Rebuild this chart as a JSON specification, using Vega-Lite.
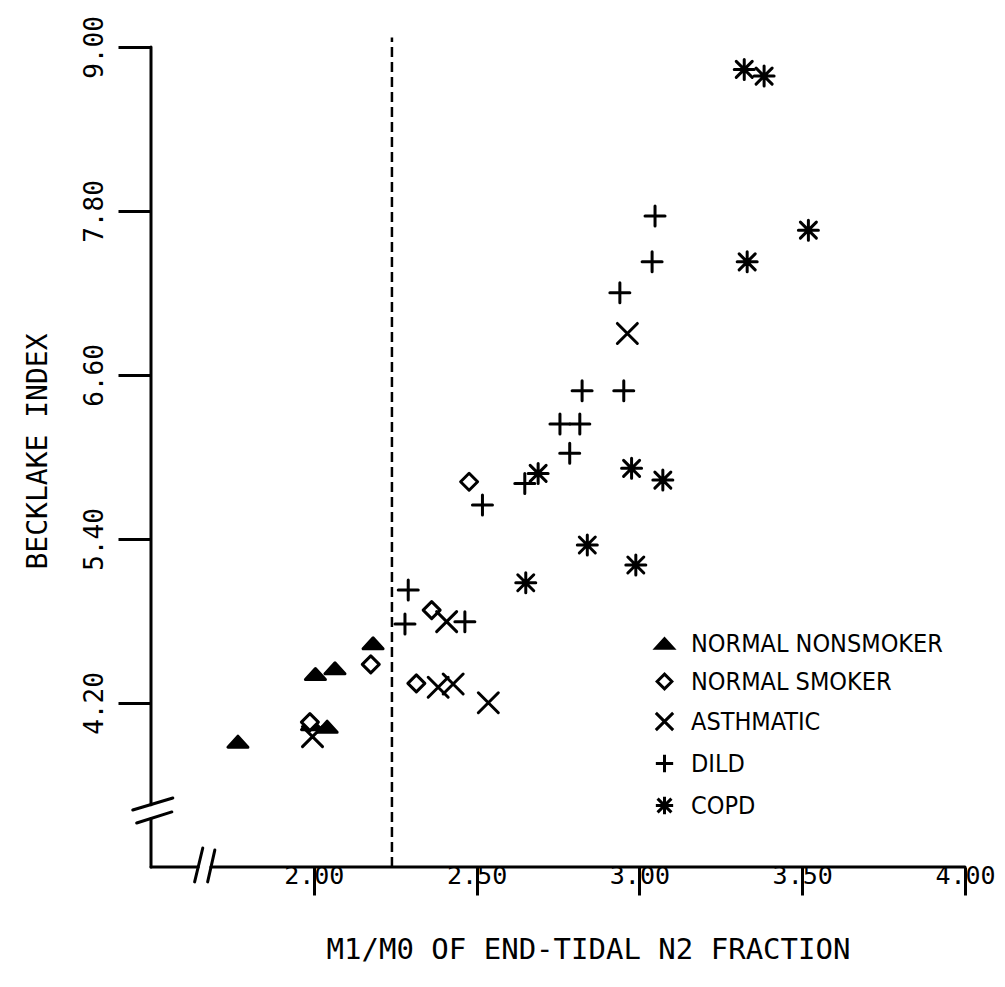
{
  "$schema": "https://vega.github.io/schema/vega-lite/v6.json",
  "width": 814,
  "height": 820,
  "autosize": "none",
  "padding": {"left": 151, "top": 47, "right": 40, "bottom": 120},
  "background": "white",
  "datasets": {
    "points": [
      {"group": "NORMAL NONSMOKER", "m1m0": 1.767, "becklake": 3.917},
      {"group": "NORMAL NONSMOKER", "m1m0": 1.993, "becklake": 4.045},
      {"group": "NORMAL NONSMOKER", "m1m0": 2.041, "becklake": 4.027},
      {"group": "NORMAL NONSMOKER", "m1m0": 2.005, "becklake": 4.412},
      {"group": "NORMAL NONSMOKER", "m1m0": 2.065, "becklake": 4.454},
      {"group": "NORMAL NONSMOKER", "m1m0": 2.182, "becklake": 4.637},
      {"group": "NORMAL SMOKER", "m1m0": 1.988, "becklake": 4.06},
      {"group": "NORMAL SMOKER", "m1m0": 2.175, "becklake": 4.483},
      {"group": "NORMAL SMOKER", "m1m0": 2.315, "becklake": 4.344},
      {"group": "NORMAL SMOKER", "m1m0": 2.362, "becklake": 4.88},
      {"group": "NORMAL SMOKER", "m1m0": 2.477, "becklake": 5.819},
      {"group": "ASTHMATIC", "m1m0": 1.996, "becklake": 3.954},
      {"group": "ASTHMATIC", "m1m0": 2.408, "becklake": 4.795},
      {"group": "ASTHMATIC", "m1m0": 2.382, "becklake": 4.315},
      {"group": "ASTHMATIC", "m1m0": 2.428, "becklake": 4.339},
      {"group": "ASTHMATIC", "m1m0": 2.536, "becklake": 4.202},
      {"group": "ASTHMATIC", "m1m0": 2.963, "becklake": 6.904},
      {"group": "DILD", "m1m0": 2.29, "becklake": 5.027},
      {"group": "DILD", "m1m0": 2.28, "becklake": 4.778},
      {"group": "DILD", "m1m0": 2.464, "becklake": 4.795},
      {"group": "DILD", "m1m0": 2.518, "becklake": 5.648},
      {"group": "DILD", "m1m0": 2.648, "becklake": 5.807},
      {"group": "DILD", "m1m0": 2.786, "becklake": 6.027},
      {"group": "DILD", "m1m0": 2.756, "becklake": 6.241},
      {"group": "DILD", "m1m0": 2.817, "becklake": 6.241},
      {"group": "DILD", "m1m0": 2.824, "becklake": 6.485},
      {"group": "DILD", "m1m0": 2.952, "becklake": 6.485},
      {"group": "DILD", "m1m0": 2.94, "becklake": 7.202},
      {"group": "DILD", "m1m0": 3.039, "becklake": 7.428},
      {"group": "DILD", "m1m0": 3.048, "becklake": 7.763},
      {"group": "COPD", "m1m0": 2.689, "becklake": 5.88},
      {"group": "COPD", "m1m0": 2.976, "becklake": 5.917},
      {"group": "COPD", "m1m0": 3.072, "becklake": 5.831},
      {"group": "COPD", "m1m0": 2.84, "becklake": 5.356},
      {"group": "COPD", "m1m0": 2.989, "becklake": 5.21},
      {"group": "COPD", "m1m0": 2.651, "becklake": 5.08},
      {"group": "COPD", "m1m0": 3.519, "becklake": 7.66},
      {"group": "COPD", "m1m0": 3.331, "becklake": 7.428},
      {"group": "COPD", "m1m0": 3.322, "becklake": 8.836},
      {"group": "COPD", "m1m0": 3.383, "becklake": 8.787}
    ],
    "lines": [
      {"kind": "axis", "x1": 1.5, "x2": 1.5, "y1": 3.0, "y2": 3.354},
      {"kind": "axis", "x1": 1.5, "x2": 1.5, "y1": 3.456, "y2": 9.0},
      {"kind": "axis", "x1": 1.5, "x2": 1.645, "y1": 3.0, "y2": 3.0},
      {"kind": "axis", "x1": 1.684, "x2": 4.0, "y1": 3.0, "y2": 3.0},
      {"kind": "break", "x1": 1.444, "x2": 1.567, "y1": 3.417, "y2": 3.505},
      {"kind": "break", "x1": 1.456, "x2": 1.564, "y1": 3.322, "y2": 3.403},
      {"kind": "break", "x1": 1.634, "x2": 1.659, "y1": 2.891, "y2": 3.139},
      {"kind": "break", "x1": 1.674, "x2": 1.696, "y1": 2.891, "y2": 3.124},
      {"kind": "threshold", "x1": 2.24, "x2": 2.24, "y1": 3.0, "y2": 9.07}
    ]
  },
  "layer": [
    {
      "data": {"name": "lines"},
      "transform": [{"filter": "datum.kind !== 'threshold'"}],
      "mark": {"type": "rule", "color": "black", "strokeWidth": 3, "strokeCap": "round"},
      "encoding": {
        "x": {"field": "x1", "type": "quantitative", "title": "M1/M0 OF END-TIDAL N2 FRACTION"},
        "x2": {"field": "x2"},
        "y": {"field": "y1", "type": "quantitative", "title": "BECKLAKE INDEX"},
        "y2": {"field": "y2"}
      }
    },
    {
      "data": {"name": "lines"},
      "transform": [{"filter": "datum.kind === 'threshold'"}],
      "mark": {"type": "rule", "color": "black", "strokeWidth": 2.5, "strokeDash": [10, 5]},
      "encoding": {
        "x": {"field": "x1", "type": "quantitative", "title": "M1/M0 OF END-TIDAL N2 FRACTION"},
        "x2": {"field": "x2"},
        "y": {"field": "y1", "type": "quantitative", "title": "BECKLAKE INDEX"},
        "y2": {"field": "y2"}
      }
    },
    {
      "data": {"name": "points"},
      "mark": {"type": "point", "strokeWidth": 3, "strokeCap": "round", "strokeJoin": "round", "opacity": 1, "size": 400},
      "encoding": {
        "x": {
          "field": "m1m0", "type": "quantitative",
          "title": "M1/M0 OF END-TIDAL N2 FRACTION",
          "scale": {"domain": [1.5, 4.0], "nice": false, "zero": false},
          "axis": {
            "values": [2.0, 2.5, 3.0, 3.5, 4.0],
            "format": ".2f",
            "domain": false,
            "grid": false,
            "ticks": true,
            "tickSize": 28,
            "tickWidth": 3,
            "tickColor": "black",
            "labelFont": "DejaVu Sans Mono",
            "labelFontSize": 25,
            "labelColor": "black",
            "labelBaseline": "middle",
            "labelAlign": "center",
            "labelPadding": -20,
            "labelFlush": false,
            "labelOverlap": false,
            "titleFont": "DejaVu Sans Mono",
            "titleFontSize": 29,
            "titleFontWeight": "normal",
            "titleColor": "black",
            "titleAlign": "center",
            "titleBaseline": "middle",
            "titleX": 437,
            "titleY": 82
          }
        },
        "y": {
          "field": "becklake", "type": "quantitative",
          "title": "BECKLAKE INDEX",
          "scale": {"domain": [3.0, 9.0], "nice": false, "zero": false},
          "axis": {
            "values": [4.2, 5.4, 6.6, 7.8, 9.0],
            "format": ".2f",
            "domain": false,
            "grid": false,
            "ticks": true,
            "tickSize": 33,
            "tickWidth": 3,
            "tickColor": "black",
            "labelFont": "DejaVu Sans Mono",
            "labelFontSize": 26,
            "labelColor": "black",
            "labelAngle": 270,
            "labelAlign": "center",
            "labelBaseline": "bottom",
            "labelPadding": 11,
            "labelFlush": false,
            "labelOverlap": false,
            "titleFont": "DejaVu Sans Mono",
            "titleFontSize": 28,
            "titleFontWeight": "normal",
            "titleColor": "black",
            "titleAngle": 270,
            "titleAlign": "center",
            "titleBaseline": "middle",
            "titleX": -113,
            "titleY": 404
          }
        },
        "shape": {
          "field": "group", "type": "nominal",
          "scale": {
            "domain": ["NORMAL NONSMOKER", "NORMAL SMOKER", "ASTHMATIC", "DILD", "COPD"],
            "range": [
              "M-1,0.55L1,0.55L0,-0.55Z",
              "M0,-0.85L0.85,0L0,0.85L-0.85,0Z",
              "M-1,-1L1,1M-1,1L1,-1",
              "M-1,0L1,0M0,-1L0,1",
              "M-1,0L1,0M0,-1L0,1M-0.8,-0.8L0.8,0.8M-0.8,0.8L0.8,-0.8"
            ]
          },
          "legend": {
            "title": null,
            "orient": "none",
            "legendX": 501,
            "legendY": 584,
            "labelFont": "DejaVu Sans Condensed",
            "labelFontSize": 25,
            "labelColor": "black",
            "labelOffset": 14,
            "symbolSize": 300,
            "symbolStrokeWidth": 3,
            "rowPadding": 11,
            "labelLimit": 400
          }
        },
        "fill": {
          "field": "group", "type": "nominal",
          "scale": {
            "domain": ["NORMAL NONSMOKER", "NORMAL SMOKER", "ASTHMATIC", "DILD", "COPD"],
            "range": ["black", "white", "transparent", "transparent", "transparent"]
          },
          "legend": {
            "title": null,
            "orient": "none",
            "legendX": 501,
            "legendY": 584,
            "labelFont": "DejaVu Sans Condensed",
            "labelFontSize": 25,
            "labelColor": "black",
            "labelOffset": 14,
            "symbolSize": 300,
            "symbolStrokeWidth": 3,
            "rowPadding": 11,
            "labelLimit": 400
          }
        },
        "stroke": {
          "field": "group", "type": "nominal",
          "scale": {
            "domain": ["NORMAL NONSMOKER", "NORMAL SMOKER", "ASTHMATIC", "DILD", "COPD"],
            "range": ["black", "black", "black", "black", "black"]
          },
          "legend": {
            "title": null,
            "orient": "none",
            "legendX": 501,
            "legendY": 584,
            "labelFont": "DejaVu Sans Condensed",
            "labelFontSize": 25,
            "labelColor": "black",
            "labelOffset": 14,
            "symbolSize": 300,
            "symbolStrokeWidth": 3,
            "rowPadding": 11,
            "labelLimit": 400
          }
        }
      }
    }
  ],
  "config": {
    "view": {"stroke": null},
    "axis": {"grid": false}
  }
}
